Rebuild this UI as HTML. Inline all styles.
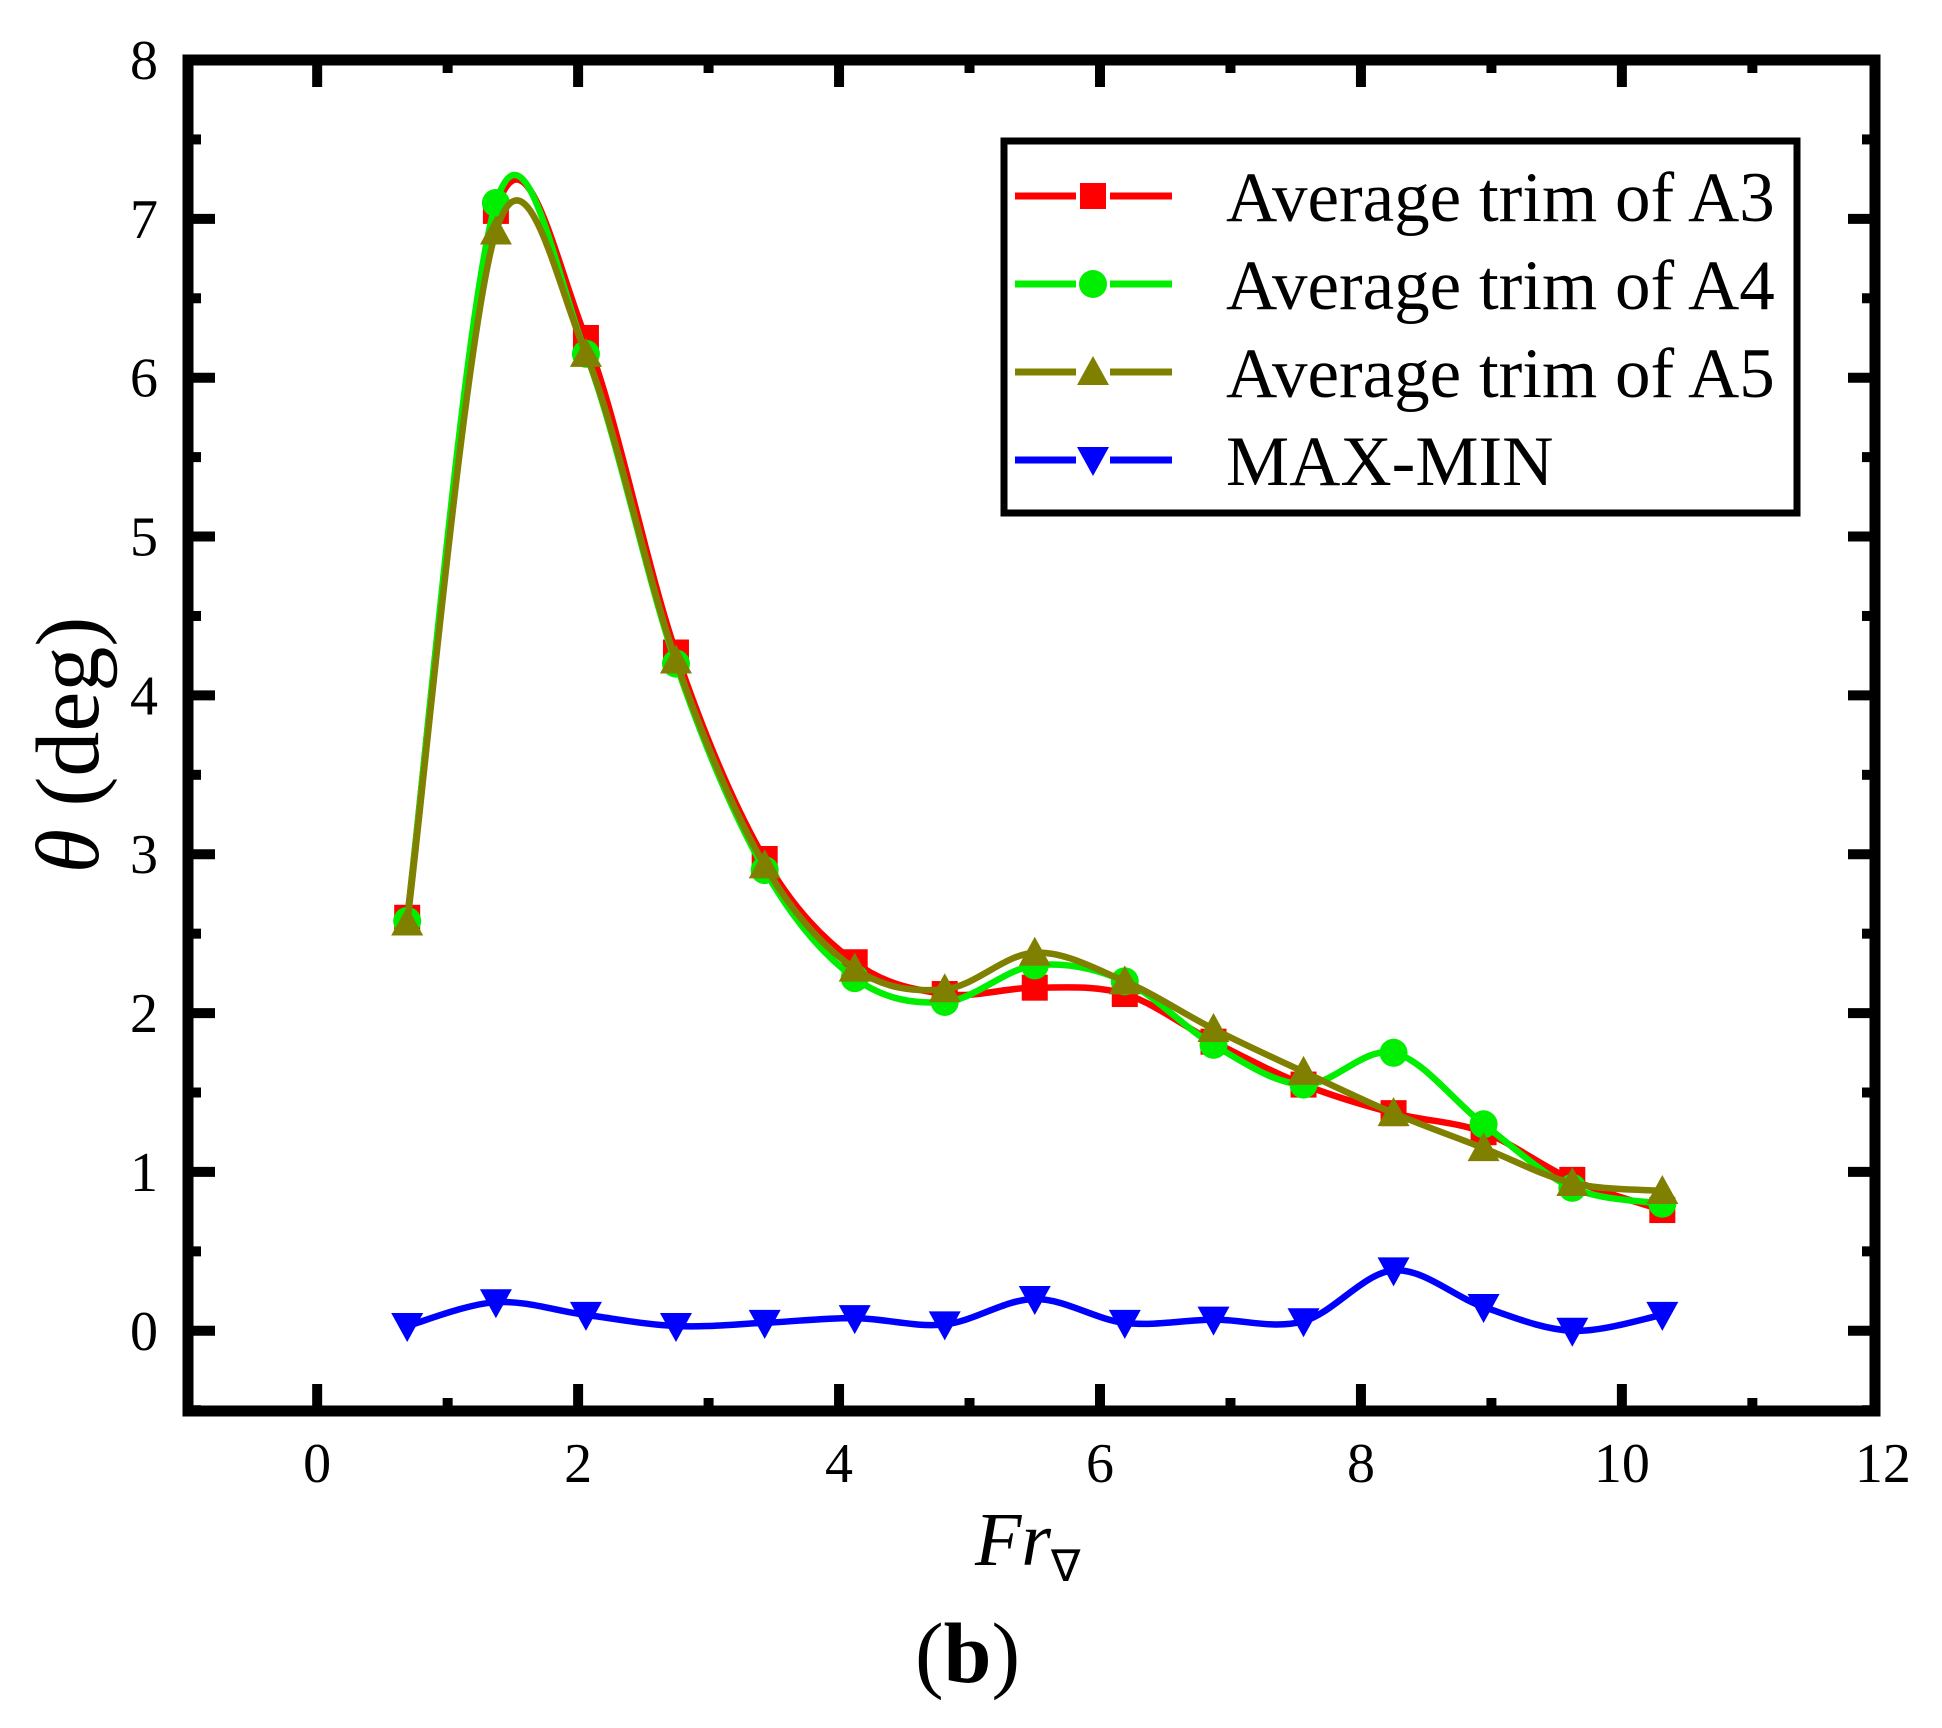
<!DOCTYPE html>
<html><head><meta charset="utf-8"><style>
html,body{margin:0;padding:0;background:#fff}
svg text{font-family:"Liberation Serif",serif}
</style></head><body>
<svg id="chart" width="1942" height="1728" viewBox="0 0 1942 1728" xmlns="http://www.w3.org/2000/svg" style="position:absolute;left:0;top:0">
<g id="marks"></g>
<text transform="translate(98,745) rotate(-90)" font-size="90" text-anchor="middle" font-family="Liberation Serif,serif"><tspan font-style="italic">θ</tspan> (deg)</text>
<text x="975" y="1565" font-size="76" font-family="Liberation Serif,serif" font-style="italic">Fr<tspan font-style="normal" font-size="44" dy="16">∇</tspan></text>
<text x="915" y="1682" font-size="86" font-family="Liberation Serif,serif">(<tspan font-weight="bold">b</tspan>)</text>
</svg>
<script>
const xValues=[0.69,1.37,2.06,2.75,3.43,4.12,4.81,5.5,6.19,6.87,7.56,8.25,8.94,9.62,10.31];
const seriesA3=[2.6,7.05,6.25,4.27,2.97,2.32,2.12,2.16,2.12,1.82,1.55,1.37,1.25,0.95,0.76];
const seriesA4=[2.58,7.1,6.15,4.2,2.9,2.22,2.07,2.3,2.2,1.8,1.55,1.75,1.3,0.9,0.8];
const seriesA5=[2.57,6.92,6.15,4.22,2.93,2.28,2.15,2.38,2.2,1.9,1.63,1.37,1.15,0.93,0.88];
const seriesMM=[0.03,0.18,0.1,0.03,0.05,0.08,0.04,0.2,0.05,0.07,0.06,0.38,0.15,0.0,0.1];
const xTicks=[0,2,4,6,8,10,12];
const yTicks=[0,1,2,3,4,5,6,7,8];
const legendLabels=["Average trim of A3","Average trim of A4","Average trim of A5","MAX-MIN"];

const L=188,R=1875,T=60,B=1411;
const xmin=-0.99,xmax=11.94,ymin=-0.505,ymax=8.0;
const sx=v=>L+(v-xmin)/(xmax-xmin)*(R-L);
const sy=v=>B-(v-ymin)/(ymax-ymin)*(B-T);
const NS="http://www.w3.org/2000/svg";
const g=document.getElementById('marks');
function mk(tag,attrs,parent){const e=document.createElementNS(NS,tag);for(const k in attrs)e.setAttribute(k,attrs[k]);(parent||g).appendChild(e);return e;}

function spline(xs,ys){
  const p=xs.map((x,i)=>[sx(x),sy(ys[i])]);
  let d=`M${p[0][0]},${p[0][1]}`;
  for(let i=0;i<p.length-1;i++){
    const p0=p[Math.max(0,i-1)],p1=p[i],p2=p[i+1],p3=p[Math.min(p.length-1,i+2)];
    const c1=[p1[0]+(p2[0]-p0[0])/6,p1[1]+(p2[1]-p0[1])/6];
    const c2=[p2[0]-(p3[0]-p1[0])/6,p2[1]-(p3[1]-p1[1])/6];
    d+=`C${c1[0]},${c1[1]} ${c2[0]},${c2[1]} ${p2[0]},${p2[1]}`;
  }
  return d;
}
function marker(type,x,y,color,parent,name){
  let e;
  if(type==='sq') e=mk('rect',{x:x-13,y:y-13,width:26,height:26,fill:color},parent);
  else if(type==='ci') e=mk('circle',{cx:x,cy:y,r:14,fill:color},parent);
  else if(type==='up') e=mk('polygon',{points:`${x},${y-16} ${x-16},${y+13} ${x+16},${y+13}`,fill:color},parent);
  else e=mk('polygon',{points:`${x},${y+16} ${x-16},${y-13} ${x+16},${y-13}`,fill:color},parent);
  
  
}
const series=[[seriesA3,'#ff0000','sq','a3'],[seriesA4,'#00ee00','ci','a4'],[seriesA5,'#808000','up','a5'],[seriesMM,'#0000ff','dn','max-min']];
series.forEach(([ys,c,m,n])=>{
  const sg=mk('g',{});
  
  
  const pth=mk('path',{d:spline(xValues,ys),fill:'none',stroke:c,'stroke-width':6.5},sg);
  
  
  xValues.forEach((x,i)=>marker(m,sx(x),sy(ys[i]),c,sg,'point-'+n));
});

const fr=mk('rect',{x:L,y:T,width:R-L,height:B-T,fill:'none',stroke:'#000','stroke-width':11});


xTicks.forEach((v,i)=>{
  const x=sx(v);
  if(v<=xmax){
    mk('line',{x1:x,x2:x,y1:B,y2:B-27,stroke:'#000','stroke-width':10});
    mk('line',{x1:x,x2:x,y1:T,y2:T+27,stroke:'#000','stroke-width':10});
  }
  const t=mk('text',{x:x,y:1482,'font-size':56,'text-anchor':'middle'});t.textContent=v;
  
  
  if(v+1<xmax){const xm=sx(v+1);
    mk('line',{x1:xm,x2:xm,y1:B,y2:B-13,stroke:'#000','stroke-width':10});
    mk('line',{x1:xm,x2:xm,y1:T,y2:T+13,stroke:'#000','stroke-width':10});}
});
yTicks.forEach(v=>{
  const y=sy(v);
  mk('line',{x1:L,x2:L+27,y1:y,y2:y,stroke:'#000','stroke-width':10});
  mk('line',{x1:R,x2:R-27,y1:y,y2:y,stroke:'#000','stroke-width':10});
  const t=mk('text',{x:L-30,y:y+19,'font-size':56,'text-anchor':'end'});t.textContent=v;
  
  
  const ym=sy(v-0.5);
  mk('line',{x1:L,x2:L+13,y1:ym,y2:ym,stroke:'#000','stroke-width':10});
  mk('line',{x1:R,x2:R-13,y1:ym,y2:ym,stroke:'#000','stroke-width':10});
});
const lg=mk('g',{});


mk('rect',{x:1004,y:141,width:793,height:372,fill:'#fff',stroke:'#000','stroke-width':7},lg);
series.forEach(([ys,c,m,n],i)=>{
  const y=196+i*88;
  mk('line',{x1:1015,x2:1076,y1:y,y2:y,stroke:c,'stroke-width':7},lg);
  mk('line',{x1:1110,x2:1172,y1:y,y2:y,stroke:c,'stroke-width':7},lg);
  marker(m,1093,y,c,lg,'legend-marker-'+n);
  const t=mk('text',{x:1226,y:y+25,'font-size':71},lg);t.textContent=legendLabels[i];
  
  
});
</script>
</body></html>
